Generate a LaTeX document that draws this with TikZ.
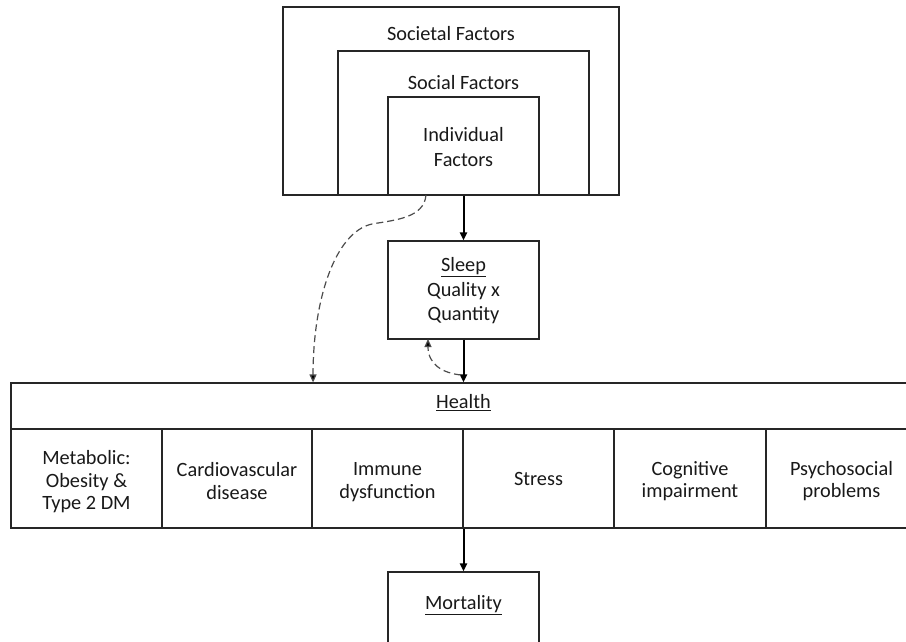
\documentclass[tikz,border=0pt]{standalone}
\usepackage{fontspec}
\setmainfont{Carlito}
\usetikzlibrary{arrows.meta}
\begin{document}
\begin{tikzpicture}[x=1pt,y=-1pt,
  box/.style={draw=black!85,line width=1.1pt,rectangle,inner sep=0pt},
  txt/.style={inner sep=0pt,align=center,font=\fontsize{20.3}{24.5}\selectfont,text=black!90},
  ctxt/.style={inner sep=0pt,align=center,font=\fontsize{20.3}{22.5}\selectfont,text=black!90},
  arr/.style={draw=black,line width=2pt,-{Triangle[length=8pt,width=7pt]}},
  darr/.style={draw=black!70,line width=1.2pt,dash pattern=on 7pt off 4pt,-{Triangle[length=8pt,width=7pt,fill=black]}}]
\useasboundingbox (0,0) rectangle (906,641);
\clip (0,0) rectangle (906,641);
\fill[white] (0,0) rectangle (906,641);
% nested factor boxes
\node[box,minimum width=336pt,minimum height=188pt] (societal) at (451,101) {};
\node[box,minimum width=251pt,minimum height=144pt] (social) at (463.5,123) {};
\node[box,minimum width=151pt,minimum height=98pt] (indiv) at (463.5,146) {};
\node[txt] (societaltxt) at (451,34) {Societal Factors};
\node[txt] (socialtxt) at (463.5,83) {Social Factors};
\node[txt] (indivtxt) at (463.5,147) {Individual\\Factors};
% sleep
\node[box,minimum width=151pt,minimum height=98pt] (sleep) at (463.5,290) {};
\node[txt] (sleeptxt) at (463.5,291) {\underline{Sleep}\\Quality x\\Quantity};
% health table
\node[box,minimum width=906pt,minimum height=46pt] (health) at (464,406) {};
\node[txt] (healthtxt) at (463.5,403) {\underline{Health}};
\node[box,minimum width=151pt,minimum height=99pt] (c1) at (86.5,478.5) {};
\node[box,minimum width=151pt,minimum height=99pt] (c2) at (237,478.5) {};
\node[box,minimum width=151pt,minimum height=99pt] (c3) at (387.5,478.5) {};
\node[box,minimum width=151pt,minimum height=99pt] (c4) at (538.5,478.5) {};
\node[box,minimum width=151pt,minimum height=99pt] (c5) at (690,478.5) {};
\node[box,minimum width=151pt,minimum height=99pt] (c6) at (841.5,478.5) {};
\node[ctxt] (t1) at (86.5,482) {Metabolic:\\Obesity \&\\Type 2 DM};
\node[ctxt] (t2) at (237,481) {Cardiovascular\\disease};
\node[ctxt] (t3) at (387.5,482) {Immune\\dysfunction};
\node[ctxt] (t4) at (538.5,479) {Stress};
\node[ctxt] (t5) at (690,481) {Cognitive\\impairment};
\node[ctxt] (t6) at (841.5,481) {Psychosocial\\problems};
% mortality
\node[box,minimum width=151pt,minimum height=98pt] (mort) at (463.5,621) {};
\node[txt] (morttxt) at (463.5,605) {\underline{Mortality}};
% arrows
\draw[arr] (indiv.south) -- (sleep.north);
\coordinate (hin) at (sleep.south |- health.north);
\coordinate (hout) at (sleep.south |- c4.south);
\draw[arr] (sleep.south) -- (hin);
\draw[arr] (hout) -- (mort.north);
% dashed curves
\coordinate (d1s) at (426,195);
\coordinate (d1e) at (c2.north east |- health.north);
\draw[darr] (d1s) .. controls (424,218) and (395,220) .. (372,224)
  .. controls (335,232) and (313,300) .. (d1e);
\coordinate (d2s) at (461,375);
\coordinate (d2e) at (428,339);
\draw[darr] (d2s) .. controls (442,373) and (428,364) .. (d2e);
\end{tikzpicture}
\end{document}
